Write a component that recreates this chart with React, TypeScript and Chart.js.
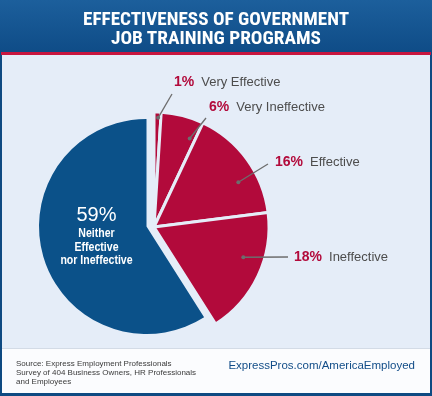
import React, { useEffect, useRef } from "react";
import { Chart, registerables } from "chart.js";

Chart.register(...registerables);

// ---------- data ----------
const CATEGORIES = [
  "Very Effective",
  "Very Ineffective",
  "Effective",
  "Ineffective",
  "Neither Effective nor Ineffective",
];
const VALUES = [1, 6, 16, 18, 59];
const PERCENT_LABELS = ["1%", "6%", "16%", "18%", "59%"];
const CENTER_LINES = ["Neither", "Effective", "nor Ineffective"];
const TITLE_LINES = ["EFFECTIVENESS OF GOVERNMENT", "JOB TRAINING PROGRAMS"];
const SOURCE_LINES = [
  "Source: Express Employment Professionals",
  "Survey of 404 Business Owners, HR Professionals",
  "and Employees",
];
const URL_TEXT = "ExpressPros.com/AmericaEmployed";

// ---------- styling / layout ----------
const RED = "#b20a3b";
const BLUE = "#0b5189";
const PANEL_BG = "#e5edf8";
const SLICE_COLORS = [RED, RED, RED, RED, BLUE];
const GROUP_SHIFT = { x: 7.5, y: 0.5 };
const GROUP_SCALE = 115 / 107.5;
// [fraction of slice angle, fraction of radius] for leader dots
const DOT_POS = [
  [0.6, 0.95],
  [0.85, 0.83],
  [0.64, 0.83],
  [0.4, 0.82],
];
// label text start / leader end points
const LABEL_POS = [
  { tx: 174, ty: 82, lx: 172, ly: 94 },
  { tx: 209, ty: 107, lx: 206, ly: 118 },
  { tx: 275, ty: 162, lx: 268, ly: 164 },
  { tx: 294, ty: 257, lx: 288, ly: 257 },
];
const TITLE_WIDTHS = [266, 210];

const groupPlugin = {
  id: "groupExplode",
  beforeDatasetDraw(chart: any, args: any) {
    const ctx = chart.ctx;
    const arcs = args.meta.data;
    arcs.forEach((arc: any, i: number) => {
      const inGroup = i < VALUES.length - 1;
      ctx.save();
      if (inGroup) ctx.translate(GROUP_SHIFT.x, GROUP_SHIFT.y);
      const r0 = arc.outerRadius;
      if (inGroup) arc.outerRadius = r0 * GROUP_SCALE;
      arc.draw(ctx);
      arc.outerRadius = r0;
      ctx.restore();
    });
    return false;
  },
  afterDatasetsDraw(chart: any) {
    const ctx = chart.ctx;
    const arcs = chart.getDatasetMeta(0).data;
    for (let i = 0; i < VALUES.length - 1; i++) {
      const arc = arcs[i];
      const [fa, fr] = DOT_POS[i];
      const ang = arc.startAngle + (arc.endAngle - arc.startAngle) * fa;
      const rr = arc.outerRadius * GROUP_SCALE * fr;
      const dx = arc.x + GROUP_SHIFT.x + Math.cos(ang) * rr;
      const dy = arc.y + GROUP_SHIFT.y + Math.sin(ang) * rr;
      const lp = LABEL_POS[i];
      ctx.save();
      ctx.strokeStyle = "#6d6d6d";
      ctx.lineWidth = 1.3;
      ctx.beginPath();
      ctx.moveTo(dx, dy);
      ctx.lineTo(lp.lx, lp.ly);
      ctx.stroke();
      ctx.fillStyle = "#6d6d6d";
      ctx.beginPath();
      ctx.arc(dx, dy, 2, 0, Math.PI * 2);
      ctx.fill();
      ctx.textBaseline = "middle";
      ctx.textAlign = "left";
      ctx.font = 'bold 14px "Liberation Sans", Arial, sans-serif';
      ctx.fillStyle = RED;
      ctx.fillText(PERCENT_LABELS[i], lp.tx, lp.ty);
      const w = ctx.measureText(PERCENT_LABELS[i]).width;
      ctx.font = '13px "Liberation Sans", Arial, sans-serif';
      ctx.fillStyle = "#4d4d4d";
      ctx.fillText(CATEGORIES[i], lp.tx + w + 7, lp.ty);
      ctx.restore();
    }
    const big = arcs[VALUES.length - 1];
    const cx = big.x - 50;
    ctx.save();
    ctx.fillStyle = "#ffffff";
    ctx.textAlign = "center";
    ctx.textBaseline = "alphabetic";
    ctx.font = '20px "Liberation Sans", Arial, sans-serif';
    ctx.fillText(PERCENT_LABELS[VALUES.length - 1], cx, big.y - 6);
    ctx.font = 'bold 12px "Liberation Sans", Arial, sans-serif';
    const offs = [10.5, 24, 37.5];
    CENTER_LINES.forEach((t, k) => {
      ctx.save();
      ctx.translate(cx, big.y + offs[k]);
      ctx.scale(0.88, 1);
      ctx.fillText(t, 0, 0);
      ctx.restore();
    });
    ctx.restore();
  },
};

export default function App() {
  const canvasRef = useRef<HTMLCanvasElement | null>(null);
  const titleRefs = useRef<(HTMLSpanElement | null)[]>([]);

  useEffect(() => {
    titleRefs.current.forEach((el, i) => {
      if (!el) return;
      el.style.transform = "none";
      const w = el.getBoundingClientRect().width;
      if (w > 0) el.style.transform = `scaleX(${TITLE_WIDTHS[i] / w})`;
    });
    if (!canvasRef.current) return;
    const chart = new Chart(canvasRef.current, {
      type: "pie",
      data: {
        labels: CATEGORIES,
        datasets: [
          {
            data: VALUES,
            backgroundColor: SLICE_COLORS,
            borderColor: PANEL_BG,
            borderWidth: [3, 3, 3, 3, 0],
            radius: 107.5,
          } as any,
        ],
      },
      options: {
        animation: false,
        responsive: false,
        events: [],
        layout: { padding: { left: 0, right: 139, top: 57, bottom: 0 } },
        plugins: {
          legend: { display: false },
          tooltip: { enabled: false },
          title: { display: false },
        },
      },
      plugins: [groupPlugin as any],
    });
    return () => chart.destroy();
  }, []);

  const titleFont = '"Liberation Sans Narrow", "Roboto Condensed", "Liberation Sans", Arial, sans-serif';

  return (
    <div
      style={{
        position: "absolute",
        left: 0,
        top: 0,
        width: 432,
        height: 396,
        background: "#0e4a82",
        overflow: "hidden",
        fontFamily: '"Liberation Sans", Arial, sans-serif',
      }}
    >
      <div style={{ position: "absolute", left: 0, top: 0, width: 432, height: 52, background: "linear-gradient(#1c5f9c, #0f4c87)" }} />
      <div style={{ position: "absolute", left: 1, top: 52, width: 430, height: 3, background: "#c8163f" }} />
      <div style={{ position: "absolute", left: 2, top: 55, width: 428, height: 293, background: PANEL_BG }} />
      <div style={{ position: "absolute", left: 2, top: 348, width: 428, height: 1, background: "#d3dbe6" }} />
      <div style={{ position: "absolute", left: 2, top: 349, width: 428, height: 44, background: "#fbfcfe" }} />
      <canvas
        ref={canvasRef}
        width={432}
        height={396}
        style={{ position: "absolute", left: 0, top: 0, width: 432, height: 396 }}
      />
      {TITLE_LINES.map((t, i) => (
        <div
          key={i}
          style={{
            position: "absolute",
            left: 0,
            top: i === 0 ? 10 : 29,
            width: 432,
            textAlign: "center",
            color: "#ffffff",
            fontFamily: titleFont,
            fontWeight: 700,
            fontSize: 18,
            lineHeight: "18px",
            whiteSpace: "nowrap",
          }}
        >
          <span
            ref={(el) => {
              titleRefs.current[i] = el;
            }}
            style={{ display: "inline-block", transformOrigin: "50% 50%" }}
          >
            {t}
          </span>
        </div>
      ))}
      <div
        style={{
          position: "absolute",
          left: 16,
          top: 359,
          fontSize: 8,
          lineHeight: "9px",
          color: "#3a3a3a",
          whiteSpace: "nowrap",
        }}
      >
        {SOURCE_LINES.map((s, i) => (
          <div key={i}>{s}</div>
        ))}
      </div>
      <div
        style={{
          position: "absolute",
          right: 17,
          top: 358,
          fontSize: 11.5,
          lineHeight: "14px",
          color: "#124d88",
          whiteSpace: "nowrap",
        }}
      >
        {URL_TEXT}
      </div>
    </div>
  );
}
